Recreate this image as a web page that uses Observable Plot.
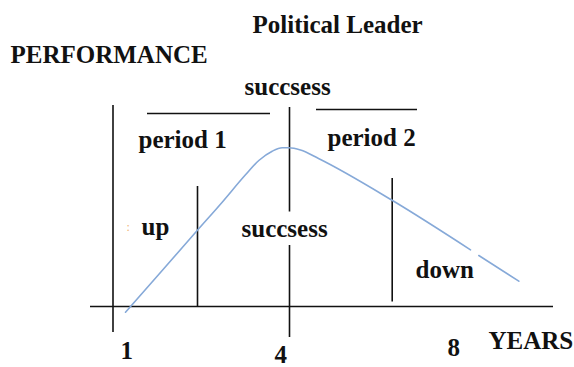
<!DOCTYPE html>
<html>
<head>
<meta charset="utf-8">
<script src="https://cdn.jsdelivr.net/npm/d3@7"></script>
<script src="https://cdn.jsdelivr.net/npm/@observablehq/plot@0.6"></script>
<style>
  html, body { margin: 0; padding: 0; background: #fff; }
</style>
</head>
<body>
<div id="chart"></div>
<script>
// Performance curve (x: time units, y: performance units; 0 = baseline axis)
const curveX1 = [12.5, 16.17, 19.67, 22.17, 24.5, 25.83, 27.17, 28.17, 28.83, 30.0, 31.8, 39.2, 47.0];
const curveY1 = [-0.57, 3.6, 7.6, 10.43, 13.17, 14.6, 15.53, 15.87, 15.87, 15.65, 14.8, 10.6, 5.67];
const curveX2 = [47.83, 51.83];
const curveY2 = [5.1, 2.53];

// Vertical divider lines
const vLineX  = [11.25, 19.7, 28.9, 28.9, 39.17];
const vLineY1 = [20.1, 12.0, 19.9, 6.1, 12.8];
const vLineY2 = [-2.6, 0.0, 9.45, -3.1, 0.45];

// Horizontal lines (axis + period bars)
const hLineY  = [0, 19.3, 19.7];
const hLineX1 = [9.0, 14.7, 31.6];
const hLineX2 = [55.3, 27.0, 41.7];

// Labels
const labelText = ["Political Leader", "PERFORMANCE", "succsess", "period 1", "period 2", "up", "succsess", "down", "YEARS"];
const labelX    = [25.2, 1.0, 24.4, 13.8, 32.7, 14.1, 24.1, 41.5, 48.8];
const labelY    = [27.4, 24.4, 21.2, 15.9, 16.1, 7.2, 7.0, 2.9, -4.2];

// Year tick labels
const tickLabels = ["1", "4", "8"];
const tickX      = [12.0, 27.4, 44.7];
const tickY      = [-5.2, -5.6, -4.9];

const seg1 = curveX1.map((x, i) => ({x, y: curveY1[i]}));
const seg2 = curveX2.map((x, i) => ({x, y: curveY2[i]}));
const vLines = vLineX.map((x, i) => ({x, y1: vLineY1[i], y2: vLineY2[i]}));
const hLines = hLineY.map((y, i) => ({y, x1: hLineX1[i], x2: hLineX2[i]}));
const labels = labelText.map((t, i) => ({t, x: labelX[i], y: labelY[i]}));
const ticks = tickLabels.map((t, i) => ({t, x: tickX[i], y: tickY[i]}));

const font = "Liberation Serif";
const textOpts = {
  x: "x", y: "y", text: "t",
  textAnchor: "start", lineAnchor: "bottom",
  fontSize: 25, fontWeight: "bold", fontFamily: font, fill: "#111"
};

const chart = Plot.plot({
  width: 574,
  height: 367,
  margin: 0,
  x: {domain: [0, 57.4], range: [0, 574], axis: null},
  y: {domain: [-6.1, 30.6], range: [367, 0], axis: null},
  style: {background: "#fff", fontFamily: font},
  marks: [
    Plot.ruleY(hLines, {y: "y", x1: "x1", x2: "x2", stroke: "#111", strokeWidth: 1.6}),
    Plot.ruleX(vLines, {x: "x", y1: "y1", y2: "y2", stroke: "#111", strokeWidth: 1.6}),
    Plot.line(seg1, {x: "x", y: "y", curve: "monotone-x", stroke: "#86a9d8", strokeWidth: 1.6}),
    Plot.line(seg2, {x: "x", y: "y", stroke: "#86a9d8", strokeWidth: 1.6}),
    Plot.text(labels, textOpts),
    Plot.text(ticks, textOpts),
    Plot.text([{t: ":", x: 12.6, y: 7.6}], {x: "x", y: "y", text: "t", textAnchor: "start", lineAnchor: "bottom", fontSize: 12, fontFamily: font, fill: "#f0b070"})
  ]
});
document.getElementById("chart").appendChild(chart);
</script>
</body>
</html>
